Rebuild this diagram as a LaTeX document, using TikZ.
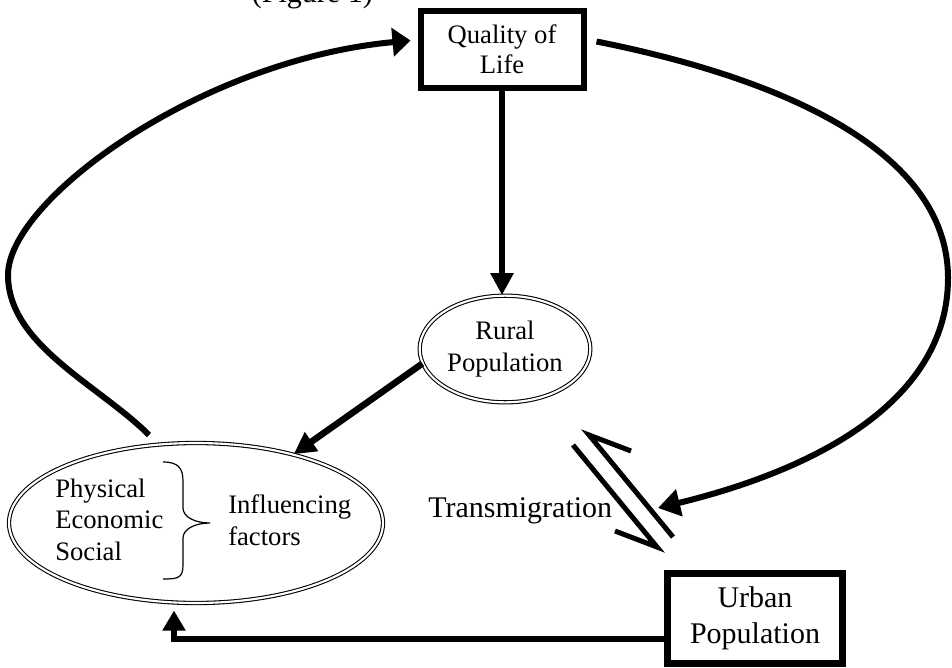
\documentclass[tikz,border=0pt]{standalone}
\usepackage{fontspec}
\setmainfont{Liberation Serif}
\usetikzlibrary{arrows.meta,shapes.geometric,calc}

\begin{document}
\begin{tikzpicture}[
  x=0.75pt, y=-0.75pt,
  boxnode/.style={draw, rectangle, align=center, inner sep=0pt},
  dblell/.style={draw, ellipse, double, double distance=1.6pt, line width=0.8pt, inner sep=0pt, align=center},
  lbl/.style={inner sep=0pt, anchor=base west, font=\fontsize{20}{24}\selectfont},
  conn/.style={line width=4.9pt, -{Triangle[length=16.5pt,width=16.5pt]}},
  loop/.style={line width=4.5pt},
  harp/.style={line width=3.75pt, line join=miter, miter limit=20}
]
\useasboundingbox (0,0) rectangle (952,667);

% caption line running off the top edge
\node[inner sep=0pt, anchor=base east, font=\fontsize{22.5}{27}\selectfont] (cap) at (373,3) {(Figure 1)};

% main nodes
\node[boxnode, line width=4.5pt, minimum width=122.25pt, minimum height=57.75pt,
      font=\fontsize{20}{22.5}\selectfont] (qol) at (502,49.5) {Quality of\\Life};
\node[dblell, minimum width=128pt, minimum height=80pt,
      font=\fontsize{20}{24}\selectfont] (rural) at (505,349) {Rural\\Population};
\node[dblell, minimum width=280.5pt, minimum height=120pt] (infl) at (196,523) {};
\node[boxnode, line width=5.25pt, minimum width=131.25pt, minimum height=67.5pt,
      font=\fontsize{22.5}{27}\selectfont] (urban) at (755,618.5) {Urban\\Population};

% texts inside the large ellipse
\node[lbl] (phys) at (55,497) {Physical};
\node[lbl] (econ) at (55,528.5) {Economic};
\node[lbl] (soc)  at (55,560) {Social};
\node[lbl] (inf1) at (228,513) {Influencing};
\node[lbl] (inf2) at (228,545) {factors};
\draw[line width=0.9pt] (163,462) .. controls (178,462) and (183,468) .. (183,481)
  -- (183,508) .. controls (183,517) and (195,523) .. (210,523)
  .. controls (195,523) and (183,529) .. (183,538)
  -- (183,565) .. controls (183,578) and (178,579) .. (163,579);

\node[inner sep=0pt, anchor=base west, font=\fontsize{22.5}{27}\selectfont] (trans) at (428,517) {Transmigration};

% connectors
\draw[conn] (qol.south) -- (qol.south |- rural.north);
\draw[conn] (rural.190) -- (infl);
\coordinate (ua) at ($(infl.south)+(-22,7)$);
\draw[conn, -{Triangle[length=15pt,width=16.5pt]}] ($(urban.west)+(0,20.5)$) -| (ua);

% feedback loops
\coordinate (la) at (149,435);
\coordinate (qolL) at ($(qol.west)+(-7,-9)$);
\coordinate (qolR) at ($(qol.east)+(10,-8)$);
\coordinate (ra) at (658,508);
\draw[loop, -{Triangle[length=13.5pt,width=21pt]}] (la)
  .. controls (99,385) and (8,345) .. (8,275)
  .. controls (8,200) and (200,60) .. (qolL);
\draw[loop, -{Triangle[length=16.5pt,width=20pt]}] (qolR)
  .. controls (780,78) and (948,150) .. (948,278)
  .. controls (948,400) and (818,469) .. (ra);

% two-way transmigration harpoons
\coordinate (t1a) at (573,445);
\coordinate (t1b) at (657,547);
\coordinate (t1c) at (615,531);
\coordinate (t2a) at (673,537);
\coordinate (t2b) at (589,435);
\coordinate (t2c) at (631,451);
\draw[harp] (t1a) -- (t1b) -- (t1c);
\draw[harp] (t2a) -- (t2b) -- (t2c);
\end{tikzpicture}
\end{document}
